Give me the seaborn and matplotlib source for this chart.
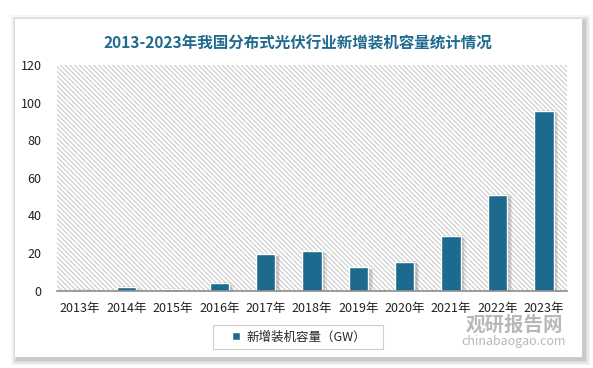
import matplotlib
matplotlib.use("Agg")
import matplotlib.pyplot as plt
import matplotlib.patheffects as pe
from matplotlib.patches import Rectangle
import seaborn as sns
import pandas as pd

years = ["2013年", "2014年", "2015年", "2016年", "2017年", "2018年",
         "2019年", "2020年", "2021年", "2022年", "2023年"]
values = [0.2, 2.1, 0.9, 3.9, 19.3, 20.9, 12.4, 15.4, 29.1, 50.9, 95.6]
series_name = "新增装机容量（GW）"
title = "2013-2023年我国分布式光伏行业新增装机容量统计情况"
y_ticks = [0, 20, 40, 60, 80, 100, 120]

sns.set_theme(style="white")
plt.rcParams["font.family"] = ["Noto Sans CJK SC", "DejaVu Sans"]
plt.rcParams["hatch.linewidth"] = 0.7

BAR = "#1d6a8f"
TITLE_C = "#1f6a8e"

fig = plt.figure(figsize=(5.93, 3.68), dpi=100)
fig.patch.set_facecolor("white")

# card shadow + card
for i, a in enumerate([0.04, 0.05, 0.06, 0.07]):
    d = (4 - i) * 1.5
    fig.patches.append(Rectangle(((15 - d + 2) / 593, 1 - (357 + d + 2) / 368),
                                 (567 + 2 * d) / 593, (338 + 2 * d) / 368,
                                 transform=fig.transFigure, facecolor="black",
                                 alpha=a, edgecolor="none", zorder=0))
fig.patches.append(Rectangle((15 / 593, 1 - 357 / 368), 567 / 593, 338 / 368,
                             transform=fig.transFigure, facecolor="white",
                             edgecolor="none", zorder=0.5))

ax = fig.add_axes([57 / 593, 1 - 290.5 / 368, 510 / 593, 225.2 / 368])
ax.set_zorder(2)
ax.set_facecolor("none")
ax.add_patch(Rectangle((0, 0), 1, 1, transform=ax.transAxes, facecolor="white",
                       edgecolor="#c4c4c4", linewidth=0, hatch="\\" * 7, zorder=0))

df = pd.DataFrame({"year": years, "value": values})
sns.barplot(data=df, x="year", y="value", color=BAR, saturation=1, width=0.42,
            edgecolor="white", linewidth=1.0, label=series_name, ax=ax, zorder=3)
for p in ax.patches[1:]:
    p.set_path_effects([
        pe.SimplePatchShadow(offset=(3.5, -1.5), shadow_rgbFace="#666666", alpha=0.12),
        pe.SimplePatchShadow(offset=(2.5, -1), shadow_rgbFace="#666666", alpha=0.18),
        pe.SimplePatchShadow(offset=(1.5, 0.5), shadow_rgbFace="#666666", alpha=0.15),
        pe.Normal()])

ax.set_ylim(0, 120)
ax.set_xlim(-0.5, len(years) - 0.5)
ax.set_yticks(y_ticks)
ax.set_yticklabels([str(t) for t in y_ticks])
ax.set_xlabel("")
ax.set_ylabel("")
ax.tick_params(axis="both", length=0, labelsize=9, colors="#222222")
ax.tick_params(axis="y", pad=11)
ax.tick_params(axis="x", pad=8)
for s in ["top", "right", "left"]:
    ax.spines[s].set_visible(False)
ax.spines["bottom"].set_color("#8c8c8c")
ax.spines["bottom"].set_linewidth(1.2)
ax.spines["bottom"].set_zorder(5)
ax.grid(False)

fig.text(298 / 593, 1 - 43 / 368, title, ha="center", va="center",
         fontsize=11.2, fontweight="bold", color=TITLE_C, zorder=3)

# legend with a custom frame
fig.patches.append(Rectangle((213 / 593, 1 - 349 / 368), 170 / 593, 24 / 368,
                             transform=fig.transFigure, facecolor="white",
                             edgecolor="#cfcfcf", linewidth=0.8, zorder=1))
leg = ax.legend(loc="center", bbox_to_anchor=(299 / 593, 1 - 337 / 368),
                bbox_transform=fig.transFigure, frameon=False, fontsize=9,
                handlelength=0.6, handleheight=0.6, handletextpad=0.5,
                borderpad=0.3)
for h in leg.legend_handles:
    h.set_path_effects([])

# watermark
fig.text(514 / 593, 1 - 325 / 368, "观研报告网", ha="center", va="center",
         fontsize=14, fontweight="bold", color="#9a9a9a", alpha=0.7, zorder=3)
fig.text(514 / 593, 1 - 342 / 368, "chinabaogao.com", ha="center", va="center",
         fontsize=9, color="#9a9a9a", alpha=0.7, zorder=3)

fig.savefig("out.png", dpi=100, facecolor="white")
